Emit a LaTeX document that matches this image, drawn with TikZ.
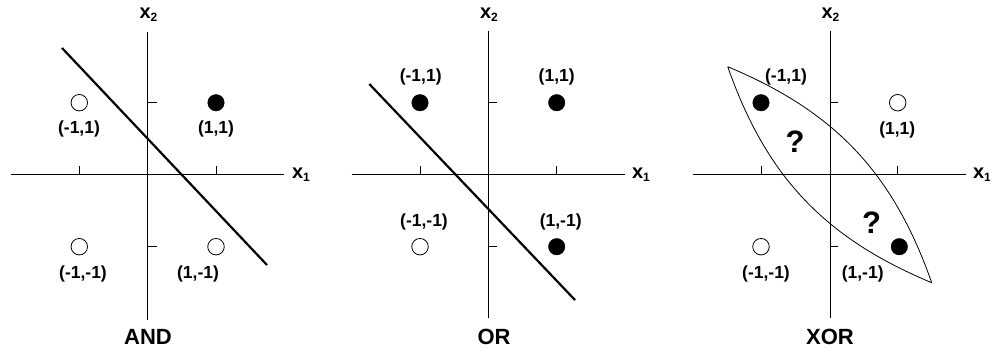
\documentclass[tikz,border=0pt]{standalone}
\usepackage{fontspec}
\setmainfont{Liberation Sans}
\newcommand{\xsub}[1]{x\raisebox{-0.3ex}{\fontsize{12}{12}\selectfont #1}}
\begin{document}
\begin{tikzpicture}[x=1pt,y=-1pt,
 axis/.style={line width=0.9pt},
 sep/.style={line width=2.2pt},
 ptfill/.style={circle,fill=black,draw=black,minimum size=16.5pt,inner sep=0pt},
 ptopen/.style={circle,fill=white,draw=black,line width=0.8pt,minimum size=16.5pt,inner sep=0pt},
 lbl/.style={font=\fontsize{17.5}{17.5}\selectfont\bfseries},
 ttl/.style={font=\fontsize{22}{22}\selectfont\bfseries},
 qm/.style={font=\fontsize{31}{31}\selectfont\bfseries},
 axl/.style={font=\fontsize{20}{20}\selectfont\bfseries},
 lens/.style={line width=0.8pt}]
\useasboundingbox (0,0) rectangle (990,349);

% ---------- AND ----------
\coordinate (a1l) at (11,174);
\coordinate (a1r) at (284,174);
\coordinate (a1t) at (147.7,32);
\coordinate (a1b) at (147.7,320);
\draw[axis] (a1l) -- (a1r);
\draw[axis] (a1t) -- (a1b);
\draw[axis] (79.3,166) -- (79.3,174);
\draw[axis] (216,166) -- (216,174);
\draw[axis] (147.7,102.7) -- (156.7,102.7);
\draw[axis] (147.7,246.7) -- (156.7,246.7);
\node[axl] (x2a) at (148.5,15) {\xsub{2}};
\node[axl] (x1a) at (301,175) {\xsub{1}};
\node[ptopen] (pa1) at (79.3,102.7) {};
\node[ptfill] (pa2) at (216,102.7) {};
\node[ptopen] (pa3) at (79.3,246.7) {};
\node[ptopen] (pa4) at (216,246.7) {};
\node[lbl] (la1) at (79,129) {(-1,1)};
\node[lbl] (la2) at (216,129) {(1,1)};
\node[lbl] (la3) at (83,274) {(-1,-1)};
\node[lbl] (la4) at (198,274) {(1,-1)};
\coordinate (sa1) at (62,48);
\coordinate (sa2) at (267,265);
\draw[sep] (sa1) -- (sa2);
\node[ttl] (tand) at (148,337) {AND};

% ---------- OR ----------
\coordinate (b1l) at (351.7,174);
\coordinate (b1r) at (625,174);
\coordinate (b1t) at (488.3,31);
\coordinate (b1b) at (488.3,318);
\draw[axis] (b1l) -- (b1r);
\draw[axis] (b1t) -- (b1b);
\draw[axis] (420,166) -- (420,174);
\draw[axis] (556.7,166) -- (556.7,174);
\draw[axis] (488.3,102.7) -- (496.7,102.7);
\draw[axis] (488.3,246.7) -- (496.7,246.7);
\node[axl] (x2b) at (489,15) {\xsub{2}};
\node[axl] (x1b) at (641,175) {\xsub{1}};
\node[ptfill] (pb1) at (420,102.7) {};
\node[ptfill] (pb2) at (556.7,102.7) {};
\node[ptopen] (pb3) at (420,246.7) {};
\node[ptfill] (pb4) at (556.7,246.7) {};
\node[lbl] (lb1) at (420.7,77) {(-1,1)};
\node[lbl] (lb2) at (556.7,77) {(1,1)};
\node[lbl] (lb3) at (424,222) {(-1,-1)};
\node[lbl] (lb4) at (560.7,222) {(1,-1)};
\coordinate (sb1) at (369.3,84);
\coordinate (sb2) at (575,300);
\draw[sep] (sb1) -- (sb2);
\node[ttl] (tor) at (494,337) {OR};

% ---------- XOR ----------
\coordinate (c1l) at (692.7,174);
\coordinate (c1r) at (966,174);
\coordinate (c1t) at (830,31);
\coordinate (c1b) at (830,318);
\draw[axis] (c1l) -- (c1r);
\draw[axis] (c1t) -- (c1b);
\draw[axis] (761,166) -- (761,174);
\draw[axis] (897.7,166) -- (897.7,174);
\draw[axis] (830,102.7) -- (838.3,102.7);
\draw[axis] (830,246.7) -- (838.3,246.7);
\node[axl] (x2c) at (830.5,15) {\xsub{2}};
\node[axl] (x1c) at (982,175) {\xsub{1}};
\coordinate (lt) at (727.7,66.7);
\coordinate (lb) at (931.7,282.7);
\draw[lens] (lt) to[bend left=24] (lb) to[bend left=24] (lt);
\node[ptfill] (pc1) at (761,102.7) {};
\node[ptopen] (pc2) at (897.7,102.7) {};
\node[ptopen] (pc3) at (761,246.7) {};
\node[ptfill] (pc4) at (899.3,246.7) {};
\node[lbl] (lc1) at (786,77) {(-1,1)};
\node[lbl] (lc2) at (897.3,130) {(1,1)};
\node[lbl] (lc3) at (766,274) {(-1,-1)};
\node[lbl] (lc4) at (862.7,274) {(1,-1)};
\node[qm] (q1) at (795,142) {?};
\node[qm] (q2) at (871.7,222.7) {?};
\node[ttl] (txor) at (830,337) {XOR};
\end{tikzpicture}
\end{document}
